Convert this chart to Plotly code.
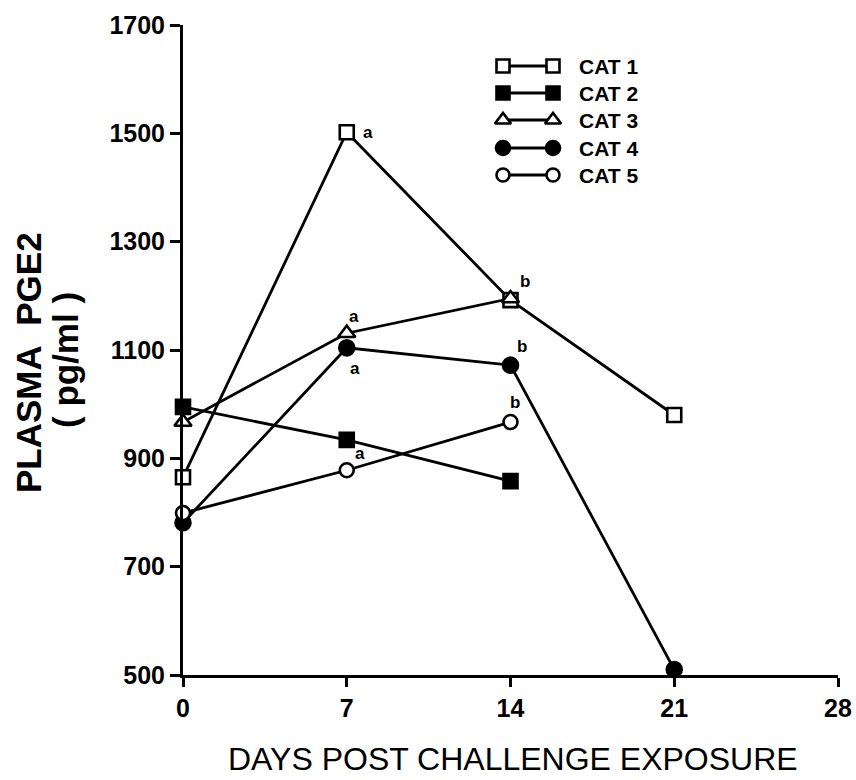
import plotly.graph_objects as go

# ---- data ----
days = [0, 7, 14, 21]
cat1 = [865, 1502, 1192, 980]
cat2 = [995, 934, 858]
cat3 = [967, 1131, 1195]
cat4 = [781, 1104, 1072, 510]
cat5 = [799, 878, 967]

series_names = ["CAT 1", "CAT 2", "CAT 3", "CAT 4", "CAT 5"]
x_ticks = [0, 7, 14, 21, 28]
y_ticks = [500, 700, 900, 1100, 1300, 1500, 1700]

# significance letters: (day, value, letter, xshift, yshift)
sig_marks = [
    (7, 1502, "a", 21, 0),
    (7, 1131, "a", 7, 17),
    (7, 1104, "a", 8, -21),
    (7, 934, "a", 13, -14),
    (14, 1192, "b", 14, 19),
    (14, 1072, "b", 11, 19),
    (14, 967, "b", 4, 20),
]

# ---- styles ----
W, H = 856, 780
L, R, T, B = 183, 18, 25, 105
PW, PH = W - L - R, H - T - B


def px_to_paper(px, py):
    return (px - L) / PW, (H - B - py) / PH


styles = [
    dict(symbol="square", color="white", size=14),
    dict(symbol="square", color="black", size=14),
    dict(symbol="triangle-up", color="white", size=15),
    dict(symbol="circle", color="black", size=15),
    dict(symbol="circle", color="white", size=14),
]
LW = 2.8
TICKFONT = dict(family="Liberation Sans", size=25, color="black", weight="bold")

fig = go.Figure()

data_series = [
    (days[:4], cat1),
    (days[:3], cat2),
    (days[:3], cat3),
    (days[:4], cat4),
    (days[:3], cat5),
]
for (xs, ys), name, st in zip(data_series, series_names, styles):
    fig.add_trace(go.Scatter(
        x=xs, y=ys, mode="lines+markers", name=name,
        line=dict(color="black", width=LW),
        marker=dict(symbol=st["symbol"], color=st["color"], size=st["size"],
                    line=dict(color="black", width=2.6)),
        cliponaxis=False, showlegend=False,
    ))

# ---- custom legend on a pixel-space overlay axis ----
leg_x0, leg_x1, leg_text_x = 503, 553, 577
leg_rows = [66, 93, 120, 148, 175]
for name, st, yy in zip(series_names, styles, leg_rows):
    fig.add_trace(go.Scatter(
        x=[leg_x0, leg_x1], y=[yy, yy], xaxis="x2", yaxis="y2",
        mode="lines+markers",
        line=dict(color="black", width=LW),
        marker=dict(symbol=st["symbol"], color=st["color"], size=st["size"] - 1,
                    line=dict(color="black", width=2.6)),
        cliponaxis=False, showlegend=False, hoverinfo="skip",
    ))
    fig.add_annotation(x=leg_text_x, y=yy, xref="x2", yref="y2", text=name,
                       showarrow=False, xanchor="left", yanchor="middle",
                       font=dict(family="Liberation Sans", size=21, color="black", weight="bold"))

for d, v, letter, dx, dy in sig_marks:
    fig.add_annotation(x=d, y=v, xref="x", yref="y", text=letter, showarrow=False,
                       xshift=dx, yshift=dy,
                       font=dict(family="Liberation Sans", size=17, color="black", weight="bold"))

# axis titles (paper coordinates)
tx, ty = px_to_paper(513, 759)
fig.add_annotation(x=tx, y=ty, xref="paper", yref="paper", text="DAYS POST CHALLENGE EXPOSURE",
                   showarrow=False, xanchor="center", yanchor="middle",
                   font=dict(family="Liberation Sans", size=32, color="black"))
tx, ty = px_to_paper(28, 363)
fig.add_annotation(x=tx, y=ty, xref="paper", yref="paper", text="PLASMA\u00a0\u00a0PGE2",
                   showarrow=False, textangle=-90, xanchor="center", yanchor="middle",
                   font=dict(family="Liberation Sans", size=35, color="black", weight="bold"))
tx, ty = px_to_paper(66, 360)
fig.add_annotation(x=tx, y=ty, xref="paper", yref="paper", text="(\u00a0pg/ml\u00a0)",
                   showarrow=False, textangle=-90, xanchor="center", yanchor="middle",
                   font=dict(family="Liberation Sans", size=35, color="black", weight="bold"))

fig.update_layout(
    width=W, height=H,
    margin=dict(l=L, r=R, t=T, b=B, pad=0, autoexpand=False),
    paper_bgcolor="white", plot_bgcolor="white",
    showlegend=False,
    xaxis=dict(range=[0, 28], tickvals=x_ticks, ticktext=[str(v) for v in x_ticks],
               showline=True, linecolor="black", linewidth=3, mirror=False,
               ticks="outside", ticklen=9, tickwidth=2.5, tickcolor="black",
               showgrid=False, zeroline=False, tickfont=TICKFONT, automargin=False),
    yaxis=dict(range=[500, 1700], tickvals=y_ticks, ticktext=[str(v) for v in y_ticks],
               showline=True, linecolor="black", linewidth=3, mirror=False,
               ticks="outside", ticklen=10, tickwidth=2.5, tickcolor="black",
               showgrid=False, zeroline=False, tickfont=TICKFONT, automargin=False),
    xaxis2=dict(range=[L, W - R], overlaying="x", anchor="y2", visible=False, fixedrange=True),
    yaxis2=dict(range=[H - B, T], overlaying="y", anchor="x2", visible=False, fixedrange=True),
)

fig.write_html("out.html")
